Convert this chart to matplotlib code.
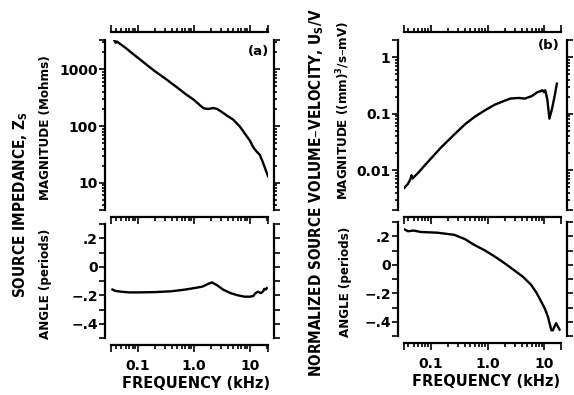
import numpy as np
import matplotlib
matplotlib.use('Agg')
import matplotlib.pyplot as plt
from matplotlib import ticker

# (a) source impedance magnitude, Mohms
a_mag_f = [0.037, 0.04, 0.042, 0.06, 0.08, 0.1, 0.15, 0.2, 0.3, 0.5, 0.7, 1.0, 1.3, 1.5,
           1.8, 2.2, 2.6, 3.2, 4.0, 5.0, 6.5, 8.0, 10, 11.5, 13, 15, 17, 19, 21]
a_mag = [3400, 2950, 3100, 2400, 1900, 1600, 1160, 930, 700, 480, 370, 290, 230, 205,
         200, 208, 200, 175, 150, 130, 100, 75, 55, 42, 36, 31, 23, 17, 13]

# (a) source impedance angle, periods
a_ang_f = [0.035, 0.04, 0.05, 0.07, 0.1, 0.2, 0.4, 0.7, 1.0, 1.4, 1.8, 2.1, 2.6, 3.3,
           4.5, 6, 8, 10, 11.5, 12.5, 14, 15.5, 17, 18, 19, 20]
a_ang = [-0.16, -0.17, -0.175, -0.18, -0.18, -0.178, -0.172, -0.16, -0.15, -0.14, -0.12,
         -0.11, -0.13, -0.16, -0.185, -0.2, -0.21, -0.21, -0.205, -0.185, -0.175, -0.185,
         -0.175, -0.155, -0.16, -0.15]

# (b) normalized volume velocity magnitude
b_mag_f = [0.032, 0.035, 0.04, 0.044, 0.046, 0.048, 0.06, 0.08, 0.1, 0.15, 0.26, 0.4, 0.6,
           0.9, 1.33, 2.0, 2.5, 3.5, 4.5, 6, 7.5, 8.5, 9.2, 9.8, 10.3, 11.2, 12.2, 13.5, 15, 16.5]
b_mag = [0.0046, 0.0050, 0.0058, 0.0070, 0.0082, 0.0072, 0.0090, 0.0125, 0.016, 0.025,
         0.043, 0.065, 0.089, 0.115, 0.144, 0.17, 0.185, 0.19, 0.185, 0.205, 0.24, 0.25,
         0.26, 0.24, 0.26, 0.18, 0.082, 0.12, 0.2, 0.34]

# (b) normalized volume velocity angle
b_ang_f = [0.034, 0.04, 0.05, 0.067, 0.13, 0.26, 0.4, 0.58, 0.9, 1.31, 2.0, 2.96, 4.2,
           5.8, 7.2, 8.8, 10.2, 11.5, 13.2, 14, 16, 18.4]
b_ang = [0.25, 0.235, 0.24, 0.23, 0.225, 0.21, 0.18, 0.14, 0.10, 0.06, 0.01, -0.04,
         -0.085, -0.14, -0.195, -0.26, -0.31, -0.365, -0.46, -0.46, -0.41, -0.455]

ang_ticks = [-0.5, -0.4, -0.3, -0.2, -0.1, 0.0, 0.1, 0.2, 0.3]
ang_labels = ['', '\u2212.4', '', '\u2212.2', '', '0', '', '.2', '']

plt.rcParams['font.family'] = 'DejaVu Sans'
plt.rcParams['font.weight'] = 'bold'
lab = dict(family='DejaVu Sans', stretch='condensed', fontweight='bold')

W, H = 574, 395
fig = plt.figure(figsize=(W / 100, H / 100), dpi=100)


def box(x0, y0, x1, y1):
    return [x0 / W, 1 - y1 / H, (x1 - x0) / W, (y1 - y0) / H]


def frame(ax, xlim, ylim, upper):
    ax.set_xscale('log')
    ax.set_xlim(*xlim)
    ax.set_ylim(*ylim)
    ax.patch.set_visible(False)
    for s in ax.spines.values():
        s.set_linewidth(1.6)
    ax.spines['left'].set_position(('outward', 4.3))
    ax.spines['right'].set_position(('outward', 4.3))
    if upper:
        ax.spines['top'].set_position(('outward', 5.8))
        ax.spines['bottom'].set_position(('outward', 5.0))
    else:
        ax.spines['top'].set_visible(False)
        ax.spines['bottom'].set_position(('outward', 5.0))
    ax.xaxis.set_major_locator(ticker.FixedLocator([xlim[0], 0.1, 1, 10, xlim[1]]))
    if upper:
        ax.xaxis.set_major_formatter(ticker.NullFormatter())
    else:
        ax.xaxis.set_major_formatter(ticker.FixedFormatter(['', '0.1', '1.0', '10', '']))
    ax.xaxis.set_minor_locator(ticker.LogLocator(base=10, subs=np.arange(2, 10), numticks=20))
    ax.xaxis.set_minor_formatter(ticker.NullFormatter())
    ax.tick_params(axis='x', which='both', direction='out', top=upper, bottom=True,
                   labeltop=False, labelbottom=not upper, width=1.2, labelsize=10, pad=5)
    ax.tick_params(axis='x', which='major', length=5)
    ax.tick_params(axis='x', which='minor', length=2.6)
    ax.tick_params(axis='y', which='both', direction='out', left=True, right=True,
                   labelright=False, width=1.2, labelsize=10, pad=1)
    ax.tick_params(axis='y', which='major', length=4.3)
    ax.tick_params(axis='y', which='minor', length=2.5)


# ---- panel (a)
ax1 = fig.add_axes(box(111, 40, 268, 210))
ax1.set_yscale('log')
frame(ax1, (0.033, 21), (3.3, 3300), True)
ax1.yaxis.set_major_locator(ticker.FixedLocator([3.3, 10, 100, 1000, 3300]))
ax1.yaxis.set_major_formatter(ticker.FixedFormatter(['', '10', '100', '1000', '']))
ax1.yaxis.set_minor_locator(ticker.LogLocator(base=10, subs=np.arange(2, 10), numticks=20))
ax1.yaxis.set_minor_formatter(ticker.NullFormatter())
ax1.plot(a_mag_f, a_mag, color='black', lw=1.7)
ax1.text(0.94, 0.93, '(a)', transform=ax1.transAxes, ha='center', va='center', fontsize=9.5)

ax2 = fig.add_axes(box(111, 224, 268, 338))
frame(ax2, (0.033, 21), (-0.5, 0.3), False)
ax2.yaxis.set_major_locator(ticker.FixedLocator(ang_ticks))
ax2.yaxis.set_major_formatter(ticker.FixedFormatter(ang_labels))
ax2.plot(a_ang_f, a_ang, color='black', lw=1.7)
ax2.set_xlabel('FREQUENCY (kHz)', fontsize=11.7, labelpad=3, **lab)
ax2.xaxis.set_label_coords(0.54, -0.33)

# ---- panel (b)
ax3 = fig.add_axes(box(404, 40, 561, 210))
ax3.set_yscale('log')
frame(ax3, (0.034, 19.5), (0.002, 2), True)
ax3.yaxis.set_major_locator(ticker.FixedLocator([0.002, 0.01, 0.1, 1, 2]))
ax3.yaxis.set_major_formatter(ticker.FixedFormatter(['', '0.01', '0.1', '1', '']))
ax3.yaxis.set_minor_locator(ticker.LogLocator(base=10, subs=np.arange(2, 10), numticks=20))
ax3.yaxis.set_minor_formatter(ticker.NullFormatter())
ax3.plot(b_mag_f, b_mag, color='black', lw=1.7)
ax3.text(0.92, 0.97, '(b)', transform=ax3.transAxes, ha='center', va='center', fontsize=9.5)

ax4 = fig.add_axes(box(404, 222, 561, 336))
frame(ax4, (0.034, 19.5), (-0.5, 0.3), False)
ax4.yaxis.set_major_locator(ticker.FixedLocator(ang_ticks))
ax4.yaxis.set_major_formatter(ticker.FixedFormatter(ang_labels))
ax4.plot(b_ang_f, b_ang, color='black', lw=1.7)
ax4.set_xlabel('FREQUENCY (kHz)', fontsize=11.7, labelpad=3, **lab)
ax4.xaxis.set_label_coords(0.52, -0.33)

# ---- y labels
fig.text(21 / W, 1 - 205 / H, 'SOURCE IMPEDANCE, Z$_\\mathregular{S}$', rotation=90,
         ha='center', va='center', fontsize=11, **lab)
fig.text(46 / W, 1 - 128 / H, 'MAGNITUDE (Mohms)', rotation=90,
         ha='center', va='center', fontsize=9.5, **lab)
fig.text(46 / W, 1 - 284 / H, 'ANGLE (periods)', rotation=90,
         ha='center', va='center', fontsize=9.5, **lab)
fig.text(317 / W, 1 - 193 / H, 'NORMALIZED SOURCE VOLUME\u2013VELOCITY, U$_\\mathregular{S}$/V',
         rotation=90, ha='center', va='center', fontsize=11, **lab)
fig.text(343 / W, 1 - 111 / H, 'MAGNITUDE ((mm)$^\\mathregular{3}$/s\u2013mV)', rotation=90,
         ha='center', va='center', fontsize=9.5, **lab)
fig.text(346 / W, 1 - 282 / H, 'ANGLE (periods)', rotation=90,
         ha='center', va='center', fontsize=9.5, **lab)

fig.savefig('out.png', dpi=100)
